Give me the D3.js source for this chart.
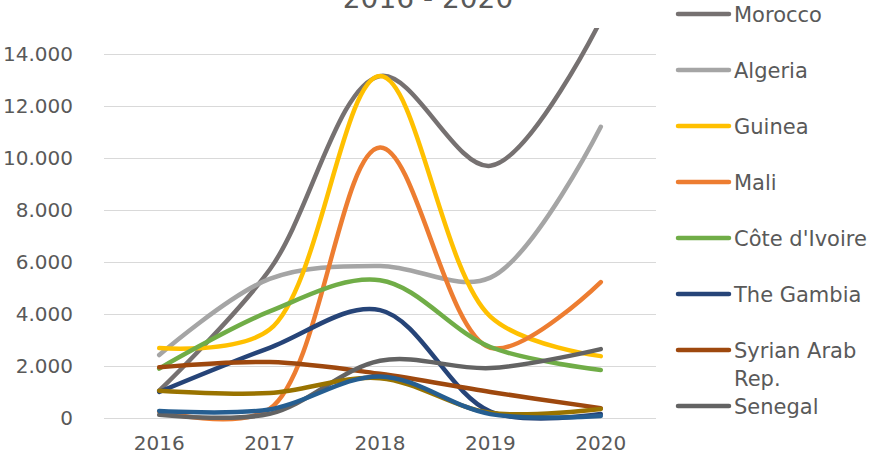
<!DOCTYPE html>
<html>
<head>
<meta charset="utf-8">
<script src="https://cdn.jsdelivr.net/npm/d3@7"></script>
<style>
  body { margin: 0; background: #fff; }
  text { font-family: 'DejaVu Sans', Verdana, sans-serif; fill: #595959; }
</style>
</head>
<body>
<div id="chart"></div>
<script>
////////////////////////////////////////////////////////////////////////
// data

let years = ['2016', '2017', '2018', '2019', '2020']
let yTicks = [0, 2000, 4000, 6000, 8000, 10000, 12000, 14000]

let names = [
  'Morocco', 'Algeria', 'Guinea', 'Mali', "Côte d'Ivoire",
  'The Gambia', 'Syrian Arab Rep.', 'Senegal', '', ''
]
let colors = [
  '#767171', '#a5a5a5', '#ffc000', '#ed7d31', '#70ad47',
  '#264478', '#9e480e', '#636363', '#997300', '#255e91'
]

let morocco = [1050, 5700, 13150, 9700, 15300]
let algeria = [2420, 5350, 5850, 5400, 11200]
let guinea = [2690, 3400, 13150, 3900, 2380]
let mali = [250, 350, 10400, 2700, 5230]
let coteIvoire = [1900, 4100, 5300, 2730, 1850]
let gambia = [1000, 2700, 4150, 250, 150]
let syria = [1950, 2150, 1700, 1000, 380]
let senegal = [120, 160, 2200, 1920, 2650]
let olive = [1050, 960, 1530, 200, 350]
let blue = [270, 330, 1600, 150, 80]

let values = [morocco, algeria, guinea, mali, coteIvoire, gambia, syria, senegal, olive, blue]

////////////////////////////////////////////////////////////////////////
// svg

let width = 869
let height = 460

let svg = d3
  .select('#chart')
  .append('svg')
  .attr('width', width)
  .attr('height', height)

let plotLeft = 104
let plotRight = 656
let plotTop = 28
let plotBottom = 418

let xScale = d3.scaleBand().domain(years).range([plotLeft, plotRight])
let yScale = d3.scaleLinear().domain([0, 15000]).range([plotBottom, plotTop])

// title, cut at the top of the picture
svg
  .append('text')
  .attr('x', 428)
  .attr('y', 8)
  .attr('text-anchor', 'middle')
  .style('font-size', '28px')
  .text('2016 - 2020')

// gridlines
svg
  .append('g')
  .selectAll('line')
  .data(yTicks)
  .enter()
  .append('line')
  .attr('x1', plotLeft)
  .attr('x2', plotRight)
  .attr('y1', d => Math.round(yScale(d)) + 0.5)
  .attr('y2', d => Math.round(yScale(d)) + 0.5)
  .attr('stroke', '#d9d9d9')
  .attr('stroke-width', 1)

// y axis labels
let yAxis = d3
  .axisLeft(yScale)
  .tickValues(yTicks)
  .tickSize(0)
  .tickPadding(0)
  .tickFormat(d => d3.format(',')(d).replace(/,/g, '.'))

let yg = svg.append('g').attr('transform', 'translate(73,0)').call(yAxis)
yg.select('.domain').remove()
yg.selectAll('text').style('font-size', '20px').attr('fill', '#595959')

// x axis labels
let xAxis = d3.axisBottom(xScale).tickSize(0).tickPadding(0)
let xg = svg.append('g').attr('transform', 'translate(0,436)').call(xAxis)
xg.select('.domain').remove()
xg.selectAll('text').style('font-size', '20px').attr('fill', '#595959')

// clip to the plot area
svg
  .append('clipPath')
  .attr('id', 'plotclip')
  .append('rect')
  .attr('x', plotLeft)
  .attr('y', plotTop)
  .attr('width', plotRight - plotLeft)
  .attr('height', plotBottom - plotTop + 14)

let line = d3
  .line()
  .x((d, i) => xScale(years[i]) + xScale.bandwidth() / 2)
  .y(d => yScale(d))
  .curve(d3.curveCatmullRom.alpha(0.5))

svg
  .append('g')
  .attr('clip-path', 'url(#plotclip)')
  .selectAll('.series')
  .data(values)
  .enter()
  .append('path')
  .attr('class', 'series')
  .attr('d', line)
  .attr('fill', 'none')
  .attr('stroke', (d, i) => colors[i])
  .attr('stroke-width', 4.5)
  .attr('stroke-linecap', 'round')
  .attr('stroke-linejoin', 'round')

// legend
let legendItems = names
  .map((n, i) => ({ name: n, color: colors[i], idx: i }))
  .filter(d => d.name !== '')

let legend = svg
  .append('g')
  .selectAll('.legend')
  .data(legendItems)
  .enter()
  .append('g')
  .attr('class', 'legend')
  .attr('transform', d => 'translate(0,' + (14 + d.idx * 56) + ')')

legend
  .append('line')
  .attr('x1', 678)
  .attr('x2', 729)
  .attr('stroke', d => d.color)
  .attr('stroke-width', 4.5)
  .attr('stroke-linecap', 'round')

legend.each(function (d) {
  let t = d3
    .select(this)
    .append('text')
    .attr('x', 734)
    .attr('y', 7.5)
    .style('font-size', '21px')
  // the long name wraps onto two lines
  if (d.name === 'Syrian Arab Rep.') {
    t.append('tspan').attr('x', 734).text('Syrian Arab')
    t.append('tspan').attr('x', 734).attr('dy', 28).text('Rep.')
  } else {
    t.text(d.name)
  }
})
</script>
</body>
</html>
